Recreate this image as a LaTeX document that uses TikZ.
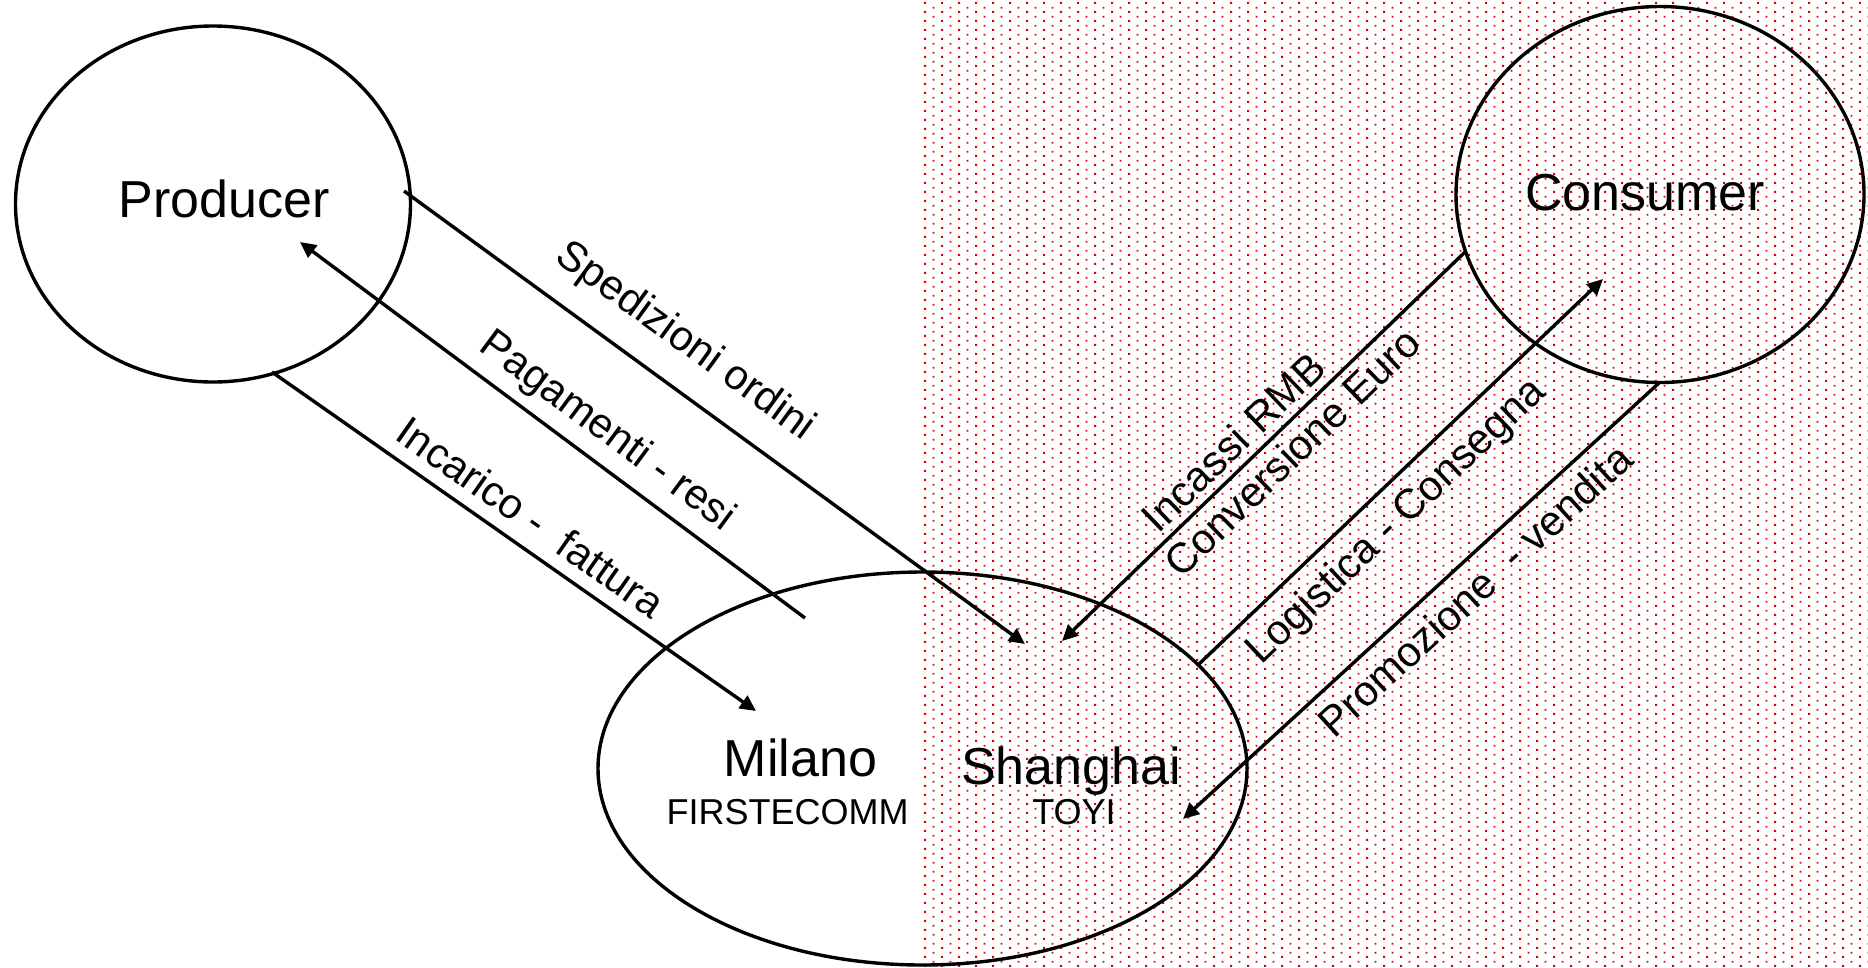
\documentclass[tikz,border=0pt]{standalone}
\usepackage{fontspec}
\setmainfont{Liberation Sans}
\usetikzlibrary{shapes.geometric,arrows.meta,patterns}
\definecolor{dotred}{RGB}{215,0,0}
\pgfdeclarepatternformonly{reddots}{\pgfqpoint{0pt}{0pt}}{\pgfqpoint{16.8pt}{8.6pt}}{\pgfqpoint{16.8pt}{8.6pt}}{%
  \pgfpathrectangle{\pgfqpoint{0.2pt}{0.2pt}}{\pgfqpoint{2pt}{2pt}}%
  \pgfpathrectangle{\pgfqpoint{8.6pt}{4.5pt}}{\pgfqpoint{2pt}{2pt}}%
  \pgfusepath{fill}}
\begin{document}
\begin{tikzpicture}[x=1pt,y=-1pt,
  oval/.style={draw, ellipse, line width=3.4pt, inner sep=0pt},
  conn/.style={line width=3.4pt, -{Triangle[length=16pt,width=15pt]}},
  nodename/.style={font=\fontsize{52}{60}\selectfont, inner sep=0pt, anchor=base},
  subname/.style={font=\fontsize{36}{42}\selectfont, inner sep=0pt, anchor=base},
  flowlabel/.style={font=\fontsize{42}{50}\selectfont, inner sep=0pt}]
\useasboundingbox (0,0) rectangle (1868,967);
% dotted region (China side)
\fill[pattern=reddots, pattern color=dotred] (923,0) rectangle (1868,967);

% ellipses
\node[oval, minimum width=395pt, minimum height=356pt] (producer) at (213,204) {};
\node[oval, minimum width=649pt, minimum height=393pt] (hub) at (922.5,768.5) {};
\node[oval, minimum width=408pt, minimum height=376pt] (consumer) at (1660,194.5) {};

% names
\node[nodename] (tproducer) at (224,217) {Producer};
\node[nodename] (tconsumer) at (1645,210) {Consumer};
\node[nodename] (tmilano) at (800.5,776) {Milano};
\node[subname] (tfirst) at (787.5,824) {FIRSTECOMM};
\node[nodename] (tshanghai) at (1071,784) {Shanghai};
\node[subname] (ttoyi) at (1074,824) {TOYI};

% connector end points
\coordinate (sp1) at (404,191);
\coordinate (sp2) at (1025,644);
\coordinate (pa1) at (805,618);
\coordinate (pa2) at (300,242);
\coordinate (in1) at (272,372);
\coordinate (in2) at (756,711);
\coordinate (ic1) at (1465,252);
\coordinate (ic2) at (1062,641);
\coordinate (lo1) at (1199,664);
\coordinate (lo2) at (1603,279);
\coordinate (pr1) at (1659,383);
\coordinate (pr2) at (1183,819);

% connectors
\draw[conn] (sp1) -- (sp2);
\draw[conn] (pa1) -- (pa2);
\draw[conn] (in1) -- (in2);
\draw[conn] (ic1) -- (ic2);
\draw[conn] (lo1) -- (lo2);
\draw[conn] (pr1) -- (pr2);

% labels
\node[flowlabel, rotate=-36] (lsp) at (685,342) {Spedizioni ordini};
\node[flowlabel, rotate=-36.6] (lpa) at (607,432) {Pagamenti - resi};
\node[flowlabel, rotate=-35] (lin) at (531,517) {Incarico -\ \ fattura};
\node[flowlabel, rotate=44] (lic) at (1233,442) {Incassi RMB};
\node[flowlabel, rotate=44] (lco) at (1292,452) {Conversione Euro};
\node[flowlabel, rotate=43.6] (llo) at (1397,522) {Logistica - Consegna};
\node[flowlabel, rotate=42.5] (lpr) at (1475,590) {Promozione\ \ - vendita};
\end{tikzpicture}
\end{document}
